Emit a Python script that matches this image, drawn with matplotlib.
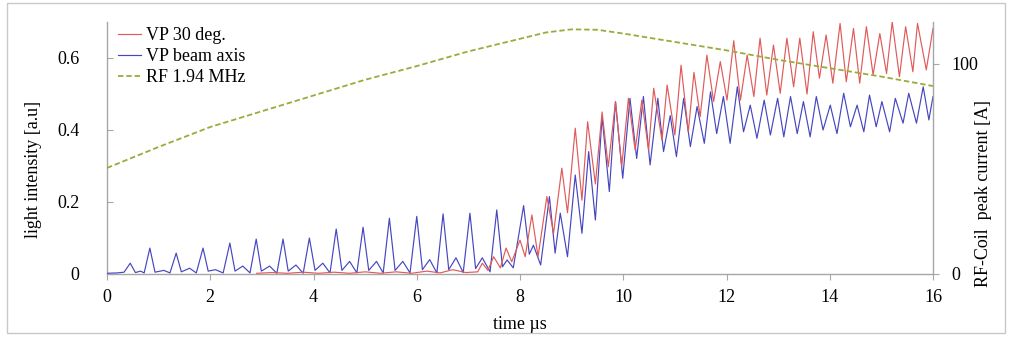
import matplotlib
matplotlib.use("Agg")
import matplotlib.pyplot as plt
from matplotlib.patches import Rectangle

# ---------------- data ----------------
blue_t = [0.0, 0.2, 0.33, 0.45, 0.55, 0.65, 0.72, 0.83, 0.93, 1.1, 1.22, 1.34, 1.44, 1.6, 1.73,
          1.86, 1.96, 2.1, 2.25, 2.38, 2.48, 2.63, 2.77, 2.89, 2.99, 3.15, 3.29, 3.41, 3.51, 3.66,
          3.8, 3.92, 4.03, 4.18, 4.32, 4.44, 4.55, 4.7, 4.84, 4.96, 5.07, 5.22, 5.35, 5.47, 5.58,
          5.73, 5.87, 6.0, 6.11, 6.25, 6.39, 6.51, 6.62, 6.76, 6.9, 7.03, 7.14, 7.27, 7.42, 7.55,
          7.66, 7.75, 7.87, 8.07, 8.18, 8.26, 8.4, 8.57, 8.68, 8.78, 8.92, 9.07, 9.2, 9.33, 9.46,
          9.59, 9.73, 9.85, 9.99, 10.13, 10.26, 10.39, 10.52, 10.67, 10.78, 10.91, 11.03, 11.17,
          11.3, 11.43, 11.57, 11.69, 11.81, 11.94, 12.07, 12.21, 12.33, 12.46, 12.59, 12.73, 12.85,
          12.99, 13.11, 13.24, 13.37, 13.49, 13.62, 13.74, 13.87, 14.01, 14.14, 14.27, 14.4, 14.53,
          14.66, 14.77, 14.9, 15.01, 15.16, 15.27, 15.42, 15.53, 15.68, 15.81, 15.92, 16.0]
blue_v = [0.002, 0.003, 0.005, 0.03, 0.004, 0.008, 0.003, 0.072, 0.005, 0.01, 0.003, 0.058, 0.006,
          0.016, 0.003, 0.072, 0.008, 0.012, 0.003, 0.086, 0.008, 0.022, 0.003, 0.097, 0.008, 0.022,
          0.002, 0.097, 0.008, 0.025, 0.002, 0.10, 0.01, 0.03, 0.003, 0.125, 0.01, 0.035, 0.003,
          0.13, 0.01, 0.035, 0.003, 0.155, 0.01, 0.035, 0.003, 0.16, 0.012, 0.04, 0.003, 0.167,
          0.012, 0.045, 0.004, 0.169, 0.015, 0.045, 0.006, 0.178, 0.02, 0.039, 0.017, 0.19, 0.055,
          0.08, 0.025, 0.215, 0.058, 0.169, 0.048, 0.275, 0.113, 0.34, 0.15, 0.437, 0.229, 0.479,
          0.266, 0.488, 0.321, 0.493, 0.303, 0.488, 0.34, 0.44, 0.326, 0.488, 0.354, 0.465, 0.363,
          0.506, 0.39, 0.493, 0.363, 0.52, 0.395, 0.469, 0.377, 0.483, 0.386, 0.488, 0.381, 0.493,
          0.39, 0.479, 0.381, 0.493, 0.40, 0.469, 0.39, 0.502, 0.409, 0.469, 0.395, 0.497, 0.409,
          0.479, 0.395, 0.488, 0.419, 0.502, 0.419, 0.52, 0.428, 0.493]

red_t = [2.9, 3.2, 3.5, 3.8, 4.1, 4.4, 4.7, 5.0, 5.3, 5.6, 5.9, 6.2, 6.45, 6.7, 6.95, 7.18, 7.27,
         7.38, 7.49, 7.62, 7.73, 7.84, 8.0, 8.1, 8.23, 8.35, 8.52, 8.65, 8.81, 8.92, 9.07, 9.2,
         9.31, 9.46, 9.59, 9.71, 9.85, 9.97, 10.1, 10.23, 10.36, 10.49, 10.59, 10.75, 10.85, 11.0,
         11.12, 11.26, 11.37, 11.49, 11.62, 11.75, 11.88, 12.01, 12.14, 12.27, 12.4, 12.53, 12.65,
         12.78, 12.91, 13.04, 13.17, 13.3, 13.42, 13.56, 13.68, 13.8, 13.93, 14.06, 14.2, 14.32,
         14.46, 14.58, 14.71, 14.84, 14.97, 15.1, 15.21, 15.35, 15.47, 15.61, 15.7, 15.87, 16.0]
red_v = [0.002, 0.004, 0.002, 0.005, 0.002, 0.005, 0.002, 0.006, 0.002, 0.006, 0.002, 0.008,
         0.003, 0.012, 0.004, 0.006, 0.03, 0.01, 0.048, 0.017, 0.072, 0.034, 0.094, 0.048, 0.164,
         0.048, 0.215, 0.113, 0.294, 0.17, 0.405, 0.205, 0.423, 0.25, 0.45, 0.298, 0.479, 0.298,
         0.488, 0.344, 0.483, 0.344, 0.516, 0.372, 0.525, 0.386, 0.58, 0.395, 0.56, 0.437, 0.608,
         0.479, 0.59, 0.483, 0.648, 0.483, 0.608, 0.493, 0.655, 0.497, 0.636, 0.502, 0.655, 0.52,
         0.655, 0.50, 0.673, 0.544, 0.664, 0.53, 0.696, 0.534, 0.682, 0.53, 0.687, 0.553, 0.668,
         0.557, 0.70, 0.548, 0.687, 0.562, 0.696, 0.567, 0.682]

rf_t = [0, 1, 2, 3, 4, 5, 6, 7, 8, 8.5, 9, 9.5, 10, 11, 12, 13, 14, 15, 16]
rf_a = [50.5, 60.5, 70, 77.5, 85, 92.5, 99, 106, 112, 115, 116.5, 116.3, 114.5, 110.5, 106.5,
        102, 98, 94, 89.5]

x_ticks = [0, 2, 4, 6, 8, 10, 12, 14, 16]
y_ticks = [0, 0.2, 0.4, 0.6]
y_ticklabels = ["0", "0.2", "0.4", "0.6"]
y2_ticks = [0, 100]

labels = ["VP 30 deg.", "VP beam axis", "RF 1.94 MHz"]

# ---------------- style ----------------
plt.rcParams['font.family'] = ['Liberation Serif', 'DejaVu Serif']
FS = 13
RED = '#e05a5a'
BLUE = '#4646c0'
GREEN = '#9aab3c'
GREY = '#a6a6a6'

W, H = 1011, 337
fig = plt.figure(figsize=(W / 100, H / 100), dpi=100)
ax_l, ax_r, ax_b, ax_t = 107, 933, 274, 22
ax = fig.add_axes([ax_l / W, 1 - ax_b / H, (ax_r - ax_l) / W, (ax_b - ax_t) / H])
ax2 = ax.twinx()

l_blue, = ax.plot(blue_t, blue_v, color=BLUE, lw=0.85, zorder=3, solid_joinstyle='round')
l_red, = ax.plot(red_t, red_v, color=RED, lw=0.85, zorder=4, solid_joinstyle='round')
l_rf, = ax2.plot(rf_t, rf_a, color=GREEN, lw=1.3, ls=(0, (3.0, 1.6)))

ax.set_xlim(0, 16)
ax.set_ylim(0, 0.7)
ax2.set_ylim(0, 120)

ax.set_xticks(x_ticks)
ax.set_xticklabels([str(v) for v in x_ticks])
ax.set_yticks(y_ticks)
ax.set_yticklabels(y_ticklabels)
ax2.set_yticks(y2_ticks)
ax2.set_yticklabels([str(v) for v in y2_ticks])

for a in (ax, ax2):
    a.spines['top'].set_visible(False)
    for s in ('left', 'right', 'bottom'):
        a.spines[s].set_color(GREY)
        a.spines[s].set_linewidth(1.0)
ax.spines['right'].set_visible(False)
ax2.spines['left'].set_visible(False)
ax2.spines['bottom'].set_visible(False)

ax.tick_params(axis='x', direction='out', length=4, color=GREY, labelsize=FS, pad=7)
ax.tick_params(axis='y', direction='in', length=4, color=GREY, labelsize=FS, pad=20)
ax2.tick_params(axis='y', direction='out', length=4, color=GREY, labelsize=FS, pad=9)

ax.set_xlabel("time µs", fontsize=FS)
ax.xaxis.set_label_coords(0.5, -0.165)
ax.set_ylabel("light intensity [a.u]", fontsize=FS)
ax.yaxis.set_label_coords(-0.079, 0.413)
ax2.set_ylabel("RF-Coil  peak current [A]", fontsize=FS)
ax2.yaxis.set_label_coords(1.051, 0.32)

ax.legend([l_red, l_blue, l_rf], labels, loc='upper left', bbox_to_anchor=(0.013, 0.98),
          frameon=False, fontsize=FS, handlelength=1.3, handletextpad=0.25,
          labelspacing=0.22, borderpad=0, borderaxespad=0)

fig.patches.append(Rectangle((7 / W, 1 - 333 / H), (1005 - 7) / W, (333 - 3) / H,
                             transform=fig.transFigure, fill=False, edgecolor='#c8c8c8',
                             lw=1.0, zorder=0))

fig.savefig("out.png", dpi=100)
